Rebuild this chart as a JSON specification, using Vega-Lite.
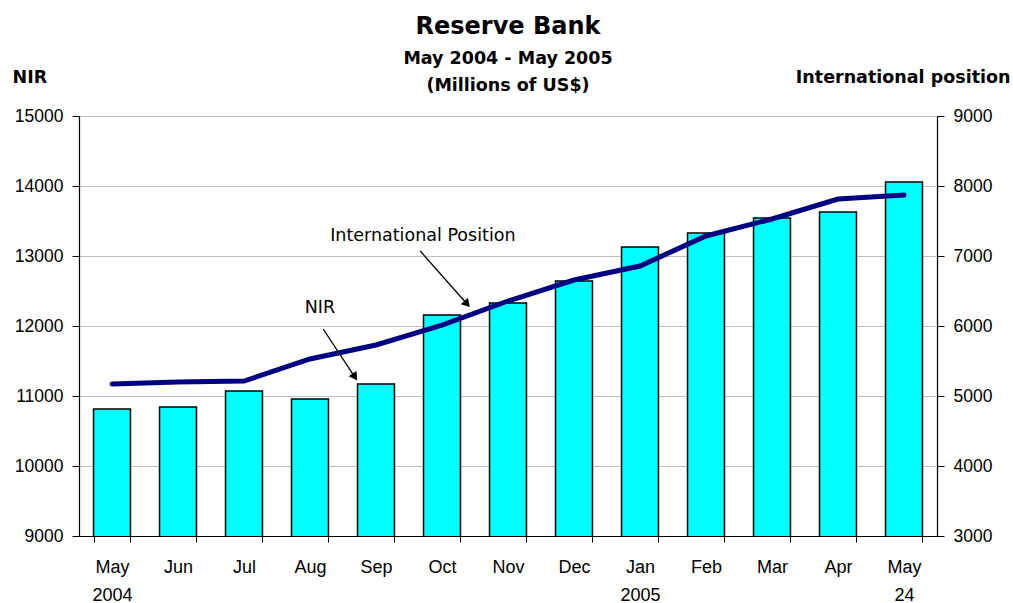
{
  "$schema": "https://vega.github.io/schema/vega-lite/v6.json",
  "width": 858,
  "height": 420,
  "autosize": {"type": "none"},
  "padding": {"left": 79, "top": 116, "right": 76, "bottom": 67},
  "background": "white",
  "config": {
    "font": "Liberation Sans",
    "view": {"stroke": null},
    "axis": {
      "labelFont": "Liberation Sans",
      "labelFontSize": 17.5,
      "labelColor": "black",
      "domainColor": "black",
      "domainWidth": 1.2,
      "tickColor": "black",
      "titleFont": "DejaVu Sans",
      "titleColor": "black"
    }
  },
  "title": {
    "text": "Reserve Bank",
    "subtitle": ["May 2004 - May 2005", "(Millions of US$)"],
    "font": "DejaVu Sans",
    "fontSize": 24,
    "fontWeight": "bold",
    "color": "black",
    "subtitleFont": "DejaVu Sans",
    "subtitleFontSize": 17.5,
    "subtitleFontWeight": "bold",
    "subtitleColor": "black",
    "subtitleLineHeight": 27,
    "subtitlePadding": 11,
    "frame": "group",
    "anchor": "middle",
    "offset": -26
  },
  "datasets": {
    "months": [
      {"month": "May 2004", "nir": 10814, "intl": 5171},
      {"month": "Jun", "nir": 10843, "intl": 5200},
      {"month": "Jul", "nir": 11071, "intl": 5214},
      {"month": "Aug", "nir": 10957, "intl": 5529},
      {"month": "Sep", "nir": 11171, "intl": 5729},
      {"month": "Oct", "nir": 12157, "intl": 6014},
      {"month": "Nov", "nir": 12329, "intl": 6357},
      {"month": "Dec", "nir": 12643, "intl": 6657},
      {"month": "Jan 2005", "nir": 13129, "intl": 6857},
      {"month": "Feb", "nir": 13329, "intl": 7286},
      {"month": "Mar", "nir": 13543, "intl": 7529},
      {"month": "Apr", "nir": 13629, "intl": 7814},
      {"month": "May 24", "nir": 14057, "intl": 7871}
    ],
    "labels": [
      {"label": "International Position", "x": 5.21, "y": 13280},
      {"label": "NIR", "x": 3.65, "y": 12260}
    ],
    "arrows": [
      {"name": "intl", "x": 5.17, "y": 13071, "x2": 5.88, "y2": 12314},
      {"name": "nir", "x": 3.70, "y": 11957, "x2": 4.18, "y2": 11271}
    ]
  },
  "layer": [
    {
      "data": {"name": "months"},
      "mark": {"type": "bar", "fill": "#00FFFF", "stroke": "black", "strokeWidth": 1.5, "clip": true},
      "encoding": {
        "x": {
          "field": "month",
          "type": "nominal",
          "sort": null,
          "scale": {"type": "band", "paddingInner": 0.44, "paddingOuter": 0.22},
          "axis": {
            "title": null,
            "labelAngle": 0,
            "labelExpr": "split(datum.label, ' ')",
            "labelFontSize": 18,
            "labelLineHeight": 28,
            "labelPadding": 16,
            "tickBand": "extent",
            "tickSize": 6,
            "grid": false,
            "labelBaseline": "top",
            "zindex": 2
          }
        },
        "y": {
          "field": "nir",
          "type": "quantitative",
          "scale": {"domain": [9000, 15000], "nice": false, "zero": false},
          "axis": {
            "orient": "left",
            "values": [9000, 10000, 11000, 12000, 13000, 14000, 15000],
            "format": "d",
            "grid": true,
            "gridColor": "#c0c0c0",
            "gridWidth": 1.2,
            "tickSize": 7,
            "labelPadding": 9,
            "title": "NIR",
            "titleAngle": 0,
            "titleAlign": "left",
            "titleBaseline": "middle",
            "titleX": -67,
            "titleY": -39,
            "titleFontSize": 17.5,
            "titleFontWeight": "bold"
          }
        }
      }
    },
    {
      "data": {"name": "months"},
      "mark": {"type": "line", "stroke": "#000080", "strokeWidth": 5, "strokeCap": "round"},
      "encoding": {
        "x": {"field": "month", "type": "nominal", "sort": null, "axis": null},
        "y": {
          "field": "intl",
          "type": "quantitative",
          "scale": {"domain": [3000, 9000], "nice": false, "zero": false},
          "axis": {
            "orient": "right",
            "values": [3000, 4000, 5000, 6000, 7000, 8000, 9000],
            "format": "d",
            "grid": false,
            "tickSize": 7,
            "labelPadding": 9,
            "title": "International position",
            "titleAngle": 0,
            "titleAlign": "right",
            "titleBaseline": "middle",
            "titleX": 73,
            "titleY": -39,
            "titleFontSize": 17.5,
            "titleFontWeight": "bold"
          }
        }
      }
    },
    {
      "data": {"name": "labels"},
      "mark": {"type": "text", "fontSize": 17.5, "color": "black", "align": "center", "baseline": "middle", "font": "DejaVu Sans"},
      "encoding": {
        "x": {"field": "x", "type": "quantitative", "scale": {"domain": [0, 13], "nice": false, "zero": true}, "axis": null},
        "y": {"field": "y", "type": "quantitative", "scale": {"domain": [9000, 15000], "nice": false, "zero": false}, "axis": null},
        "text": {"field": "label"}
      }
    },
    {
      "data": {"name": "arrows"},
      "mark": {"type": "rule", "color": "black", "strokeWidth": 1.3},
      "encoding": {
        "x": {"field": "x", "type": "quantitative", "scale": {"domain": [0, 13], "nice": false, "zero": true}, "axis": null},
        "y": {"field": "y", "type": "quantitative", "scale": {"domain": [9000, 15000], "nice": false, "zero": false}, "axis": null},
        "x2": {"field": "x2"},
        "y2": {"field": "y2"}
      }
    },
    {
      "data": {"name": "arrows"},
      "transform": [{"filter": "datum.name == 'intl'"}],
      "mark": {"type": "point", "shape": "triangle-up", "filled": true, "color": "black", "size": 90, "angle": 138, "opacity": 1},
      "encoding": {
        "x": {"field": "x2", "type": "quantitative", "scale": {"domain": [0, 13], "nice": false, "zero": true}, "axis": null},
        "y": {"field": "y2", "type": "quantitative", "scale": {"domain": [9000, 15000], "nice": false, "zero": false}, "axis": null}
      }
    },
    {
      "data": {"name": "arrows"},
      "transform": [{"filter": "datum.name == 'nir'"}],
      "mark": {"type": "point", "shape": "triangle-up", "filled": true, "color": "black", "size": 90, "angle": 146, "opacity": 1},
      "encoding": {
        "x": {"field": "x2", "type": "quantitative", "scale": {"domain": [0, 13], "nice": false, "zero": true}, "axis": null},
        "y": {"field": "y2", "type": "quantitative", "scale": {"domain": [9000, 15000], "nice": false, "zero": false}, "axis": null}
      }
    }
  ],
  "resolve": {"scale": {"x": "independent", "y": "independent"}}
}
